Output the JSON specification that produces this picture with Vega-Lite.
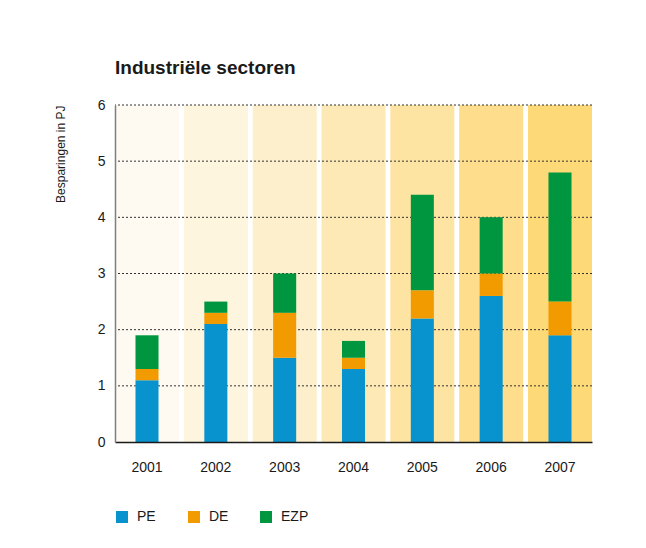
{
  "$schema": "https://vega.github.io/schema/vega-lite/v6.json",
  "width": 477,
  "height": 337,
  "autosize": {"type": "none"},
  "padding": {"left": 115, "top": 105, "right": 54, "bottom": 106},
  "background": "white",
  "title": {
    "text": "Industriële sectoren",
    "anchor": "start",
    "frame": "group",
    "font": "Liberation Sans",
    "fontSize": 19,
    "fontWeight": "bold",
    "color": "#1a1a1a",
    "offset": 20
  },
  "config": {
    "view": {"stroke": null},
    "axis": {"labelFont": "Liberation Sans", "titleFont": "Liberation Sans", "labelColor": "#1a1a1a", "titleColor": "#1a1a1a"}
  },
  "datasets": {
    "years": [
      {"year": "2001"}, {"year": "2002"}, {"year": "2003"}, {"year": "2004"},
      {"year": "2005"}, {"year": "2006"}, {"year": "2007"}
    ],
    "grid": [{"g": 1}, {"g": 2}, {"g": 3}, {"g": 4}, {"g": 5}, {"g": 6}],
    "savings": [
      {"year": "2001", "category": "PE", "value": 1.1},
      {"year": "2001", "category": "DE", "value": 0.2},
      {"year": "2001", "category": "EZP", "value": 0.6},
      {"year": "2002", "category": "PE", "value": 2.1},
      {"year": "2002", "category": "DE", "value": 0.2},
      {"year": "2002", "category": "EZP", "value": 0.2},
      {"year": "2003", "category": "PE", "value": 1.5},
      {"year": "2003", "category": "DE", "value": 0.8},
      {"year": "2003", "category": "EZP", "value": 0.7},
      {"year": "2004", "category": "PE", "value": 1.3},
      {"year": "2004", "category": "DE", "value": 0.2},
      {"year": "2004", "category": "EZP", "value": 0.3},
      {"year": "2005", "category": "PE", "value": 2.2},
      {"year": "2005", "category": "DE", "value": 0.5},
      {"year": "2005", "category": "EZP", "value": 1.7},
      {"year": "2006", "category": "PE", "value": 2.6},
      {"year": "2006", "category": "DE", "value": 0.4},
      {"year": "2006", "category": "EZP", "value": 1.0},
      {"year": "2007", "category": "PE", "value": 1.9},
      {"year": "2007", "category": "DE", "value": 0.6},
      {"year": "2007", "category": "EZP", "value": 2.3}
    ]
  },
  "layer": [
    {
      "data": {"name": "years"},
      "mark": {"type": "bar"},
      "encoding": {
        "x": {
          "field": "year",
          "type": "ordinal",
          "scale": {"paddingInner": 0.07, "paddingOuter": 0},
          "axis": {
            "title": null,
            "labelAngle": 0,
            "labelFontSize": 14,
            "labelPadding": 18,
            "ticks": false,
            "domainColor": "#1a1a1a",
            "domainWidth": 1.5,
            "zindex": 1
          }
        },
        "y": {
          "datum": 6,
          "type": "quantitative",
          "scale": {"domain": [0, 6], "nice": false},
          "axis": {
            "title": "Besparingen in PJ",
            "titleFontSize": 12,
            "titleFontWeight": "normal",
            "titleAnchor": "end",
            "titlePadding": 30,
            "labelFontSize": 14,
            "labelPadding": 10,
            "format": "d",
            "ticks": false,
            "grid": false,
            "values": [0, 1, 2, 3, 4, 5, 6],
            "domainColor": "#7f7f7f",
            "domainWidth": 1.5,
            "zindex": 1
          }
        },
        "y2": {"datum": 0},
        "fill": {
          "field": "year",
          "type": "ordinal",
          "legend": null,
          "scale": {"range": ["#FEFAF2", "#FDF5DE", "#FDEFCB", "#FDE9B6", "#FEE4A2", "#FEDE8D", "#FED978"]}
        }
      }
    },
    {
      "data": {"name": "grid"},
      "mark": {"type": "rule", "strokeDash": [2, 2], "color": "#333333", "strokeWidth": 1},
      "encoding": {
        "y": {"field": "g", "type": "quantitative", "title": "Besparingen in PJ"}
      }
    },
    {
      "data": {"name": "savings"},
      "transform": [{"calculate": "indexof(['PE','DE','EZP'], datum.category)", "as": "ord"}],
      "mark": {"type": "bar", "width": {"band": 0.36}},
      "encoding": {
        "x": {"field": "year", "type": "ordinal", "title": null},
        "y": {"field": "value", "type": "quantitative", "stack": "zero", "title": "Besparingen in PJ"},
        "order": {"field": "ord", "type": "quantitative"},
        "color": {
          "field": "category",
          "type": "nominal",
          "scale": {"domain": ["PE", "DE", "EZP"], "range": ["#0893CF", "#F29B00", "#00963F"]},
          "legend": {
            "orient": "bottom",
            "direction": "horizontal",
            "title": null,
            "symbolType": "square",
            "symbolSize": 144,
            "symbolStrokeWidth": 0,
            "labelFont": "Liberation Sans",
            "labelFontSize": 14,
            "labelColor": "#1a1a1a",
            "labelOffset": 8,
            "columnPadding": 22,
            "gridAlign": "all",
            "offset": 36
          }
        }
      }
    }
  ]
}
